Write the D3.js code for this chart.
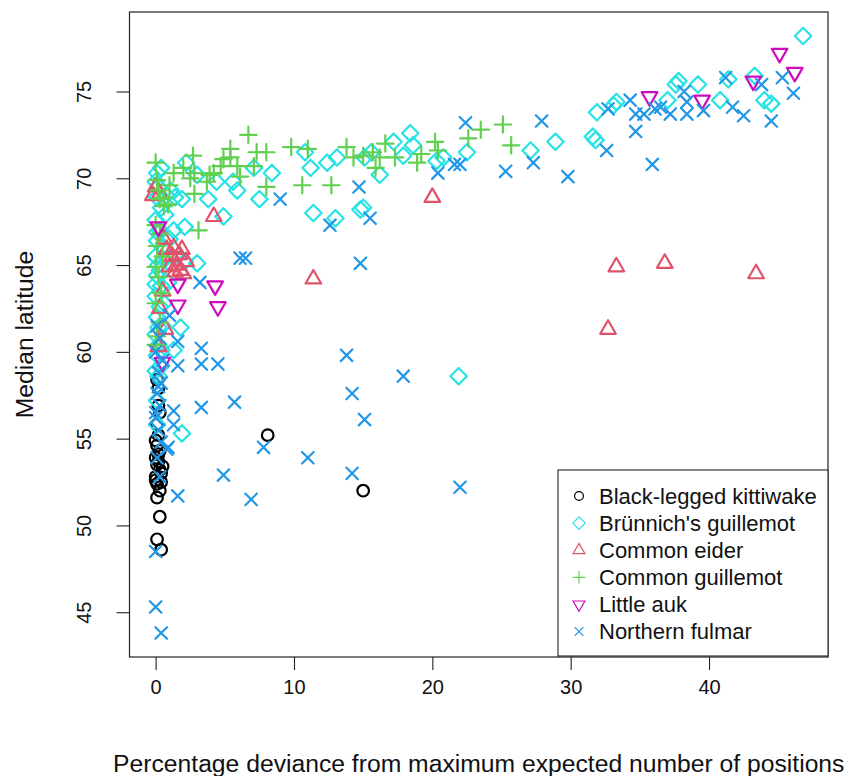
<!DOCTYPE html>
<html>
<head>
<meta charset="utf-8">
<script src="https://cdn.jsdelivr.net/npm/d3@7"></script>
<style>
  html, body { margin: 0; padding: 0; background: #fff; }
  svg { display: block; font-family: "Liberation Sans", Arial, Helvetica, sans-serif; }
</style>
</head>
<body>
<svg id="chart" width="850" height="776"></svg>
<script>
// ---- Data (x = % deviance from max expected positions, y = median latitude) ----
const species = ["Black-legged kittiwake", "Brünnich's guillemot", "Common eider", "Common guillemot", "Little auk", "Northern fulmar"];
const speciesColors = ["#000000", "#28E2E5", "#DF536B", "#61D04F", "#CD0BBC", "#2297E6"];
const speciesShapes = ["circle", "diamond", "triangle", "plus", "triangleDown", "cross"];
const xTicks = [0, 10, 20, 30, 40];
const yTicks = [45, 50, 55, 60, 65, 70, 75];

const kittiwake = [[0.1,58.4],[0.2,57.9],[0.2,56.9],[0.3,56.5],[0.1,55.8],[0.2,55.2],[0.0,54.9],[0.1,54.6],[0.3,54.3],[0.0,53.9],[0.1,53.5],[0.3,53.2],[0.0,52.8],[0.1,52.4],[0.3,52.0],[0.1,51.6],[0.3,50.5],[0.1,49.2],[0.4,48.6],[8.1,55.2],[15.0,52.0],
  [0.2,53.7],[0.4,53.0],[0.0,52.6],[0.5,53.4],[0.2,54.1],[0.4,52.5]];

const brunnich = [[46.8,78.2],[43.3,75.9],[41.4,75.7],[37.8,75.6],[37.6,75.4],[39.2,75.4],[37.0,74.5],[33.3,74.4],[31.9,73.8],[31.6,72.4],[31.8,72.2],[40.8,74.5],[44.0,74.5],[44.5,74.3],[33.1,74.2],[28.9,72.1],[27.1,71.6],[22.5,71.5],[18.4,72.6],[17.2,72.1],[18.6,71.9],[17.9,71.3],[16.2,70.2],[15.6,71.5],[20.3,71.0],[20.8,71.2],[15.0,68.3],[21.9,58.6],
  [10.8,71.5],[11.2,70.6],[12.4,70.9],[13.1,71.2],[11.4,68.0],[13.0,67.7],[14.8,68.2],[15.1,71.2],[7.5,68.8],[8.4,70.3],[7.1,70.6],[5.9,69.3],[5.6,69.8],[3.8,68.8],[4.4,69.8],[4.9,67.8],[3.0,70.2],[2.2,70.9],[1.4,68.9],[2.1,67.2],[1.3,67.0],[1.9,68.8],[0.1,70.3],[0.4,70.6],[2.1,65.2],[3.0,65.1],[1.8,61.4],[1.3,60.1],[0.1,57.2],[0.1,55.8],[1.9,55.3],
  [0.0,69.8],[0.2,69.5],[0.1,68.9],[0.4,68.3],[0.0,67.6],[0.3,67.0],[0.1,66.4],[0.5,66.0],[0.0,65.5],[0.2,65.0],[0.1,64.4],[0.4,63.8],[0.0,63.2],[0.3,62.6],[0.1,62.0],[0.5,61.5],[0.0,61.0],[0.2,60.4],[0.1,59.8],[0.4,59.2],[0.2,58.6],[0.8,69.0],[1.1,69.3],[0.7,67.9],[1.0,66.5],[0.9,64.0],[0.6,62.8],
  [0.3,64.7],[0.0,63.9],[0.2,61.4],[0.4,60.1],[0.1,66.9],[0.6,65.3],[0.0,58.9]];

const eider = [[11.4,64.2],[33.3,64.9],[36.8,65.1],[43.4,64.5],[32.7,61.3],[20.0,68.9],[4.2,67.8],[0.0,69.5],[0.3,69.1],[-0.2,69.0],[0.6,66.5],[0.8,65.9],[1.2,65.5],[1.5,65.0],[1.8,64.7],[2.0,64.5],[1.0,64.9],[0.5,63.5],[0.7,61.3],[0.3,62.5],[0.2,60.3],
  [1.3,66.0],[1.7,65.6],[2.2,65.2],[1.9,65.9],[1.4,64.6]];

const guillemot = [[25.1,73.1],[23.5,72.8],[22.6,72.3],[25.7,71.9],[20.2,72.1],[20.4,71.6],[19.2,71.4],[18.9,70.9],[16.6,72.0],[16.2,71.2],[15.7,71.5],[15.9,70.6],[15.0,71.3],[17.3,71.2],[6.7,72.5],[9.8,71.8],[11.0,71.7],[13.8,71.8],[14.3,71.2],[10.6,69.6],[12.7,69.6],[8.0,71.5],[7.3,71.5],[7.1,70.7],[8.0,69.5],[5.4,71.2],[5.9,70.7],[4.7,70.7],[4.2,70.3],[3.7,69.8],[2.7,71.3],[2.0,70.6],[2.5,70.0],[1.3,70.3],[0.0,70.9],[0.1,69.9],[1.0,69.6],[0.3,68.8],[0.6,68.4],[3.1,67.0],[2.8,69.1],
  [5.4,71.7],[4.9,71.1],[6.1,70.1],[3.9,70.2],[2.8,70.3],
  [0.0,67.3],[0.3,66.8],[0.1,66.1],[0.5,65.5],[0.0,64.9],[0.2,64.3],[0.4,63.4],[0.0,62.8],[0.3,61.7],[0.1,60.9],[0.0,60.4],[0.2,69.3],[0.6,68.9],[0.9,68.5]];

const littleAuk = [[45.1,77.2],[46.2,76.1],[43.2,75.6],[39.5,74.5],[35.7,74.7],[1.6,63.9],[4.3,63.8],[1.6,62.7],[4.5,62.6],[0.5,59.4],[0.2,67.2]];

const fulmar = [[32.7,74.0],[34.3,74.5],[34.7,73.7],[35.3,73.7],[36.1,74.0],[36.5,74.1],[37.2,73.7],[38.4,73.7],[38.4,74.4],[39.6,73.9],[41.2,75.8],[41.7,74.1],[42.5,73.6],[43.8,75.4],[45.3,75.8],[46.1,74.9],[44.5,73.3],[34.7,72.7],[32.6,71.6],[35.9,70.8],[38.2,75.0],
  [22.4,73.2],[27.9,73.3],[27.3,70.9],[25.3,70.4],[29.8,70.1],[22.0,70.8],[21.6,70.8],[20.4,70.3],[15.5,67.7],[14.8,65.1],[14.7,69.5],[9.0,68.8],[12.6,67.3],
  [6.5,65.4],[6.1,65.4],[13.8,59.8],[17.9,58.6],[14.2,57.6],[15.1,56.1],[7.8,54.5],[11.0,53.9],[14.2,53.0],[22.0,52.2],[6.9,51.5],[5.7,57.1],
  [3.2,64.0],[1.6,60.6],[3.3,60.2],[1.6,59.2],[3.3,59.3],[4.5,59.3],[3.3,56.8],[1.3,56.6],[1.3,55.8],[0.8,54.4],[0.3,52.8],[4.9,52.9],[1.6,51.7],[0.0,48.5],[0.0,45.3],[0.4,43.8],[1.0,62.1],[0.9,54.5],
  [0.1,61.5],[0.3,60.8],[0.0,60.0],[0.5,59.5],[0.2,58.8],[0.4,58.2],[0.1,57.6],[0.3,56.9],[0.0,56.2],[0.2,55.5],[0.4,54.8],[0.1,53.9],[0.2,58.0],[0.0,56.5]];

const seriesData = [kittiwake, brunnich, eider, guillemot, littleAuk, fulmar];

// ---- Layout ----
const svg = d3.select("#chart");
const plot = { left: 129.5, right: 828, top: 12, bottom: 657 };
const x = d3.scaleLinear().domain([-1.89, 48.6]).range([plot.left, plot.right]);
const y = d3.scaleLinear().domain([42.42, 79.58]).range([plot.bottom, plot.top]);

// R-like pch symbol paths centred on origin
function symbolPath(shape, r) {
  const S2 = Math.SQRT2;
  switch (shape) {
    case "circle":
      return `M${r},0A${r},${r} 0 1,1 ${-r},0A${r},${r} 0 1,1 ${r},0Z`;
    case "diamond": {
      const c = S2 * r;
      return `M${-c},0L0,${-c}L${c},0L0,${c}Z`;
    }
    case "triangle": {
      const r0 = 1.5551 * r, yc = 0.7776 * r, xc = 1.3468 * r;
      return `M0,${-r0}L${xc},${yc}L${-xc},${yc}Z`;
    }
    case "triangleDown": {
      const r0 = 1.5551 * r, yc = 0.7776 * r, xc = 1.3468 * r;
      return `M0,${r0}L${xc},${-yc}L${-xc},${-yc}Z`;
    }
    case "plus": {
      const c = S2 * r;
      return `M${-c},0L${c},0M0,${-c}L0,${c}`;
    }
    case "cross":
      return `M${-r},${-r}L${r},${r}M${-r},${r}L${r},${-r}`;
  }
}

// ---- Points ----
const pts = svg.append("g");
seriesData.forEach((arr, i) => {
  pts.selectAll(null).data(arr).enter().append("path")
    .attr("d", symbolPath(speciesShapes[i], 5.8))
    .attr("transform", d => `translate(${x(d[0])},${y(d[1])})`)
    .attr("fill", "none")
    .attr("stroke", speciesColors[i])
    .attr("stroke-width", 2.2)
    .attr("stroke-linecap", "round")
    .attr("stroke-linejoin", "round");
});

// ---- Axes ----
const xAxis = svg.append("g")
  .attr("transform", `translate(0,${plot.bottom})`)
  .call(d3.axisBottom(x).tickValues(xTicks).tickSize(13).tickPadding(10).tickFormat(d3.format("d")));
xAxis.select(".domain").remove();
xAxis.selectAll(".tick line").attr("stroke", "#222").attr("stroke-width", 1.1);
xAxis.selectAll(".tick text").attr("font-size", 20).attr("fill", "#111")
  .attr("font-family", "'Liberation Sans', Arial, sans-serif");

const yAxis = svg.append("g")
  .attr("transform", `translate(${plot.left},0)`)
  .call(d3.axisLeft(y).tickValues(yTicks).tickSize(13).tickFormat(d3.format("d")));
yAxis.select(".domain").remove();
yAxis.selectAll(".tick line").attr("stroke", "#222").attr("stroke-width", 1.1);
yAxis.selectAll(".tick text")
  .attr("font-size", 20).attr("fill", "#111")
  .attr("font-family", "'Liberation Sans', Arial, sans-serif")
  .attr("x", null).attr("dy", null)
  .attr("text-anchor", "middle")
  .attr("dominant-baseline", "central")
  .attr("transform", `translate(${84 - plot.left},0) rotate(-90)`);

// ---- Plot box ----
svg.append("rect")
  .attr("x", plot.left).attr("y", plot.top)
  .attr("width", plot.right - plot.left).attr("height", plot.bottom - plot.top)
  .attr("fill", "none").attr("stroke", "#222").attr("stroke-width", 1.2);

// ---- Axis titles ----
svg.append("text")
  .attr("x", (plot.left + plot.right) / 2).attr("y", 763)
  .attr("text-anchor", "middle").attr("dominant-baseline", "central")
  .attr("font-size", 24.7).attr("fill", "#111")
  .text("Percentage deviance from maximum expected number of positions");

svg.append("text")
  .attr("transform", `translate(24,${(plot.top + plot.bottom) / 2}) rotate(-90)`)
  .attr("text-anchor", "middle").attr("dominant-baseline", "central")
  .attr("font-size", 24.7).attr("fill", "#111")
  .text("Median latitude");

// ---- Legend ----
const lg = { x: 558, y: 470, w: 828 - 558, h: 656 - 470, row0: 496, step: 27.1 };
const legend = svg.append("g");
legend.append("rect")
  .attr("x", lg.x).attr("y", lg.y).attr("width", lg.w).attr("height", lg.h)
  .attr("fill", "#fff").attr("stroke", "#222").attr("stroke-width", 1.1);
species.forEach((name, i) => {
  const cy = lg.row0 + i * lg.step;
  legend.append("path")
    .attr("d", symbolPath(speciesShapes[i], 4.4))
    .attr("transform", `translate(579,${cy})`)
    .attr("fill", "none").attr("stroke", speciesColors[i]).attr("stroke-width", 1.2);
  legend.append("text")
    .attr("x", 599).attr("y", cy)
    .attr("dominant-baseline", "central")
    .attr("font-size", 22).attr("fill", "#111")
    .text(name);
});
</script>
</body>
</html>
